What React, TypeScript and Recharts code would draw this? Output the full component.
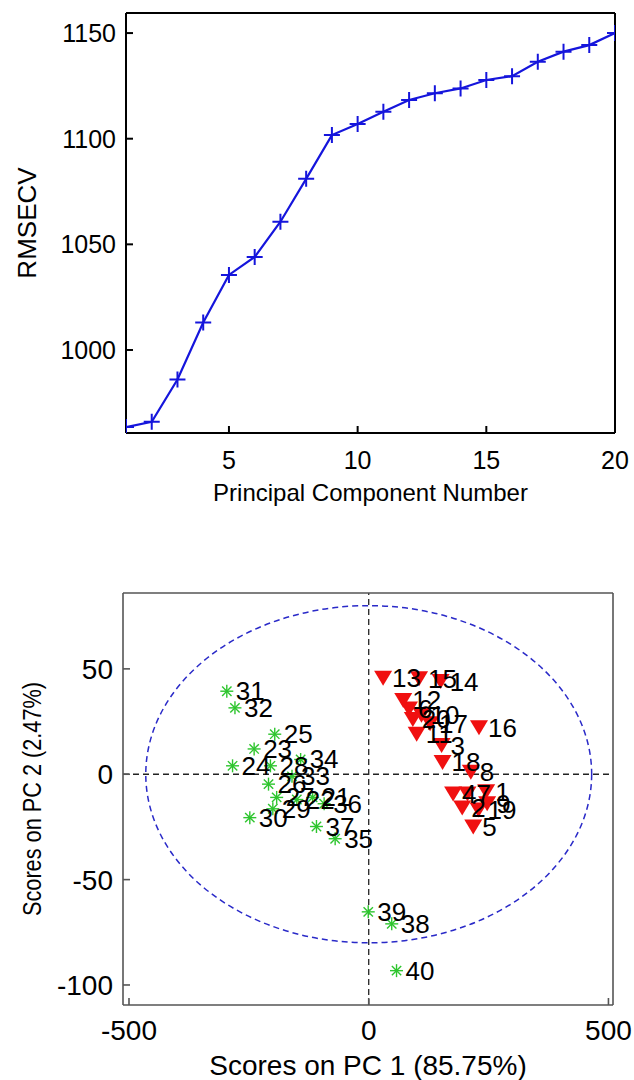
import React from 'react';
import { LineChart, Line, XAxis, YAxis, ScatterChart, Scatter, ReferenceLine, ReferenceArea } from 'recharts';

// RMSECV vs number of principal components
const COMPONENTS = [1, 2, 3, 4, 5, 6, 7, 8, 9, 10, 11, 12, 13, 14, 15, 16, 17, 18, 19, 20];
const RMSECV = [963.5, 966, 986, 1013, 1035.5, 1044, 1060.7, 1081, 1101.7, 1107, 1112.8, 1118.3, 1121.5, 1123.8, 1127.8, 1129.6, 1136.4, 1141.2, 1144.3, 1150];
const PC_TICKS = [5, 10, 15, 20];
const RMSECV_TICKS = [1000, 1050, 1100, 1150];

// score plot, class 1 (red triangles)
const RED_IDS = [1, 2, 3, 4, 5, 6, 7, 8, 9, 10, 11, 12, 13, 14, 15, 16, 17, 18, 19, 20];
const RED_PC1 = [245, 195, 152, 176, 218, 84, 206, 213, 247, 110, 100, 72, 30, 150, 105, 230, 128, 154, 229, 92];
const RED_PC2 = [-8.3, -16, 13.6, -9.4, -25, 31, -9.4, 0.9, -14, 28, 19, 35, 45.6, 44, 45.3, 22, 24, 5.6, -17, 26];

// score plot, class 2 (green stars)
const GREEN_IDS = [21, 22, 23, 24, 25, 26, 27, 28, 29, 30, 31, 32, 33, 34, 35, 36, 37, 38, 39, 40];
const GREEN_PC1 = [-117, -150, -239, -284, -196, -209, -192, -205, -200, -248, -296, -279, -160, -142, -70, -93, -109, 48, -1, 58];
const GREEN_PC2 = [-11, -12, 12, 4, 19, -4.7, -11, 4, -16.4, -20.6, 39.4, 31.5, -1, 7, -30.6, -14, -24.8, -71, -65.3, -93.2];

const PC1_TICKS = [-500, 0, 500];
const PC2_TICKS = [-100, -50, 0, 50];
// 95% confidence ellipse half-axes
const ELLIPSE_PC1 = [-465, 465];
const ELLIPSE_PC2 = [-80, 80];

const FONT = '"Liberation Sans", Arial, sans-serif';

const rmsecvData = COMPONENTS.map((c, i) => ({ pc: c, rmsecv: RMSECV[i] }));
const redData = RED_IDS.map((id, i) => ({ id, pc1: RED_PC1[i], pc2: RED_PC2[i] }));
const greenData = GREEN_IDS.map((id, i) => ({ id, pc1: GREEN_PC1[i], pc2: GREEN_PC2[i] }));

const PlusDot = (p: any) => {
    const { cx, cy, index } = p;
    if (cx == null || cy == null) return <g key={index} />;
    return (
        <path key={`plus-${index}`} d={`M${cx - 8},${cy}H${cx + 8}M${cx},${cy - 8}V${cy + 8}`}
            stroke="#1515dc" strokeWidth={2} fill="none" />
    );
};

const Triangle = (p: any) => {
    const { cx, cy } = p;
    return <polygon points={`${cx - 9},${cy - 7.5} ${cx + 9},${cy - 7.5} ${cx},${cy + 7.5}`} fill="#f01010" />;
};

const Star = (p: any) => {
    const { cx, cy } = p;
    const r = 6.5;
    const d = r * 0.72;
    return (
        <g stroke="#2ec52e" strokeWidth={1.4}>
            <line x1={cx - r} y1={cy} x2={cx + r} y2={cy} />
            <line x1={cx} y1={cy - r} x2={cx} y2={cy + r} />
            <line x1={cx - d} y1={cy - d} x2={cx + d} y2={cy + d} />
            <line x1={cx - d} y1={cy + d} x2={cx + d} y2={cy - d} />
        </g>
    );
};

const PointLabel = (p: any) => {
    const { cx, cy, payload } = p;
    return (
        <text x={cx + 9} y={cy} dominantBaseline="central" fontSize={26} fontFamily={FONT} fill="#000">
            {payload.id}
        </text>
    );
};

const xTitle = (text: string, dy: number, size: number) => (props: any) => {
    const vb = props.viewBox || props;
    return (
        <text x={vb.x + vb.width / 2} y={vb.y + dy} textAnchor="middle" fontSize={size} fontFamily={FONT} fill="#000">
            {text}
        </text>
    );
};

const yTitle = (text: string, cxPos: number, size: number, len?: number) => (props: any) => {
    const vb = props.viewBox || props;
    const x = vb.x + cxPos;
    const y = vb.y + vb.height / 2;
    return (
        <text x={x} y={y} transform={`rotate(-90, ${x}, ${y})`} textAnchor="middle" dominantBaseline="central"
            fontSize={size} fontFamily={FONT} fill="#000"
            {...(len ? { textLength: len, lengthAdjust: 'spacingAndGlyphs' } : {})}>
            {text}
        </text>
    );
};

function RmsecvChart() {
    const axisStyle = { stroke: '#000', strokeWidth: 2 };
    const tick = { fontSize: 25, fill: '#000', fontFamily: FONT };
    return (
        <LineChart width={634} height={540} data={rmsecvData} margin={{ top: 12, right: 18, left: 0, bottom: 0 }}>
            <XAxis type="number" dataKey="pc" domain={[1, 20]} ticks={PC_TICKS} allowDataOverflow
                height={107} tickSize={-7} tickMargin={25} tick={tick} axisLine={axisStyle} tickLine={axisStyle}
                label={xTitle('Principal Component Number', 68, 24)} />
            <XAxis xAxisId="top" orientation="top" type="number" domain={[1, 20]} ticks={PC_TICKS} allowDataOverflow
                height={1} tickSize={-7} tick={false} axisLine={axisStyle} tickLine={axisStyle} />
            <YAxis type="number" domain={[960.7, 1159.5]} ticks={RMSECV_TICKS} allowDataOverflow
                width={126} tickSize={-7} tickMargin={17} tick={tick} axisLine={axisStyle} tickLine={axisStyle}
                label={yTitle('RMSECV', 27, 26)} />
            <YAxis yAxisId="right" orientation="right" type="number" domain={[960.7, 1159.5]} ticks={RMSECV_TICKS}
                allowDataOverflow width={1} tickSize={-7} tick={false} axisLine={axisStyle} tickLine={axisStyle} />
            <Line type="linear" dataKey="rmsecv" stroke="#1515dc" strokeWidth={2.2} dot={PlusDot}
                activeDot={false} isAnimationActive={false} />
        </LineChart>
    );
}

function ScoresChart() {
    const axisStyle = { stroke: '#555', strokeWidth: 1.6 };
    const tick = { fontSize: 28, fill: '#000', fontFamily: FONT };
    return (
        <ScatterChart width={634} height={540} margin={{ top: 52, right: 20, left: 0, bottom: 0 }}>
            <XAxis type="number" dataKey="pc1" domain={[-512.5, 509.5]} ticks={PC1_TICKS} allowDataOverflow
                height={75} tickSize={-7} tickMargin={22} tick={tick} axisLine={axisStyle} tickLine={axisStyle}
                label={xTitle('Scores on PC 1 (85.75%)', 70, 28)} />
            <XAxis xAxisId="top" orientation="top" type="number" domain={[-512.5, 509.5]} ticks={PC1_TICKS}
                allowDataOverflow height={1} tickSize={-7} tick={false} axisLine={axisStyle} tickLine={axisStyle} />
            <YAxis type="number" dataKey="pc2" domain={[-109.5, 86]} ticks={PC2_TICKS} allowDataOverflow
                width={123} tickSize={-7} tickMargin={17} tick={tick} axisLine={axisStyle} tickLine={axisStyle}
                label={yTitle('Scores on PC 2 (2.47%)', 32, 26, 234)} />
            <YAxis yAxisId="right" orientation="right" type="number" domain={[-109.5, 86]} ticks={PC2_TICKS}
                allowDataOverflow width={1} tickSize={-7} tick={false} axisLine={axisStyle} tickLine={axisStyle} />
            <ReferenceArea x1={ELLIPSE_PC1[0]} x2={ELLIPSE_PC1[1]} y1={ELLIPSE_PC2[0]} y2={ELLIPSE_PC2[1]}
                shape={(p: any) => (
                    <ellipse cx={p.x + p.width / 2} cy={p.y + p.height / 2} rx={p.width / 2} ry={p.height / 2}
                        fill="none" stroke="#2a2ac8" strokeWidth={1.5} strokeDasharray="6 4" />
                )} />
            <ReferenceLine x={0} stroke="#222" strokeWidth={1.3} strokeDasharray="6 4" />
            <ReferenceLine y={0} stroke="#222" strokeWidth={1.3} strokeDasharray="6 4" />
            <Scatter data={redData} dataKey="pc2" shape={Triangle} isAnimationActive={false} />
            <Scatter data={greenData} dataKey="pc2" shape={Star} isAnimationActive={false} />
            <Scatter data={redData} dataKey="pc2" shape={PointLabel} isAnimationActive={false} />
            <Scatter data={greenData} dataKey="pc2" shape={PointLabel} isAnimationActive={false} />
        </ScatterChart>
    );
}

export default function App() {
    return (
        <div style={{ position: 'absolute', left: 0, top: 0, width: 634, height: 1080, background: '#fff', fontFamily: FONT }}>
            <RmsecvChart />
            <ScoresChart />
        </div>
    );
}
